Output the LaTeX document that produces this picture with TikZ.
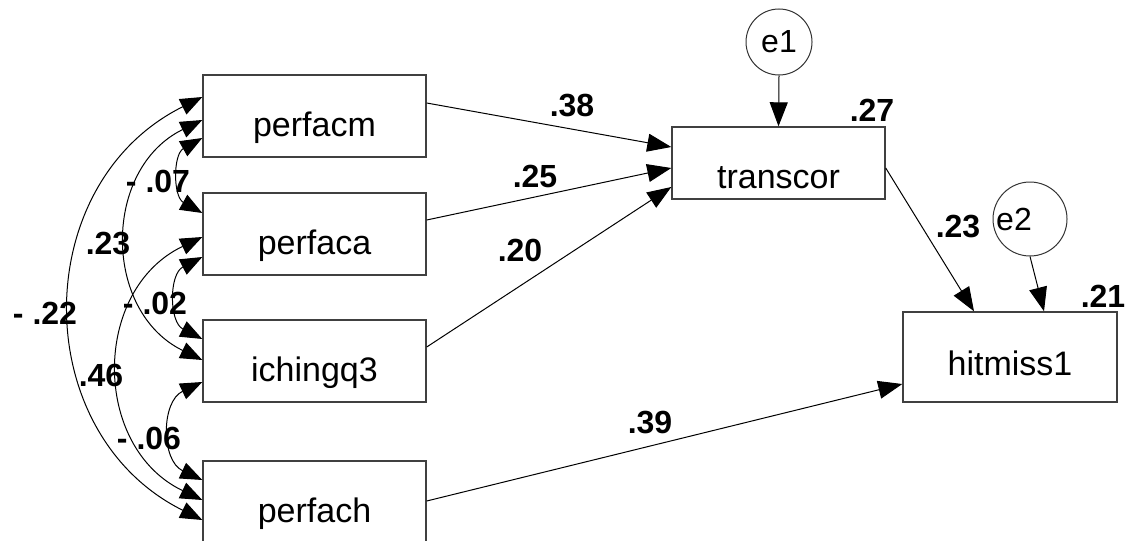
\documentclass[tikz,border=0pt]{standalone}
\usepackage{fontspec}
\setmainfont{Liberation Sans}
\usetikzlibrary{arrows.meta,calc}
\begin{document}
\begin{tikzpicture}[x=0.5pt,y=-0.5pt,
  box/.style={draw=black!75, line width=0.7pt, minimum width=111.5pt, minimum height=41pt,
    inner sep=0pt, font=\fontsize{17}{20}\selectfont, text height=20pt, text depth=0pt},
  errc/.style={draw=black!80, line width=0.5pt, circle, inner sep=0pt, font=\fontsize{16}{18}\selectfont},
  arr/.style={-{Triangle[length=12pt,width=9pt]}, line width=0.5pt},
  dbl/.style={{Triangle[length=11pt,width=8.5pt]}-{Triangle[length=11pt,width=8.5pt]}, line width=0.5pt},
  lbl/.style={font=\bfseries\fontsize{16}{18}\selectfont, inner sep=0pt}
]
\useasboundingbox (0,0) rectangle (1128,540);
% observed variables
\node[box] (perfacm) at (314.5,116) {perfacm};
\node[box] (perfaca) at (314.5,234) {perfaca};
\node[box] (ichingq3) at (314.5,361) {ichingq3};
\node[box] (perfach) at (314.5,502) {perfach};
\node[box, minimum width=106.5pt, minimum height=36pt, text height=25pt] (transcor) at (778.5,163) {transcor};
\node[box, minimum width=107pt, minimum height=45pt, text height=18pt] (hitmiss1) at (1010,357) {hitmiss1};
% error terms
\node[errc, minimum size=33pt] (e1) at (779,42) {e1};
\node[errc, minimum size=37pt] (e2) at (1030,219) {};
\node[font=\fontsize{16}{18}\selectfont, inner sep=0pt] (e2t) at (1014,219) {e2};
% regression paths
\draw[arr] ($(perfacm.east)+(0,-13)$) -- ($(transcor.west)+(0,-16)$);
\draw[arr] ($(perfaca.east)+(0,-14)$) -- ($(transcor.west)+(0,5)$);
\draw[arr] ($(ichingq3.east)+(0,-14)$) -- ($(transcor.west)+(0,24)$);
\draw[arr] ($(perfach.east)+(0,-1)$) -- ($(hitmiss1.west)+(0,27)$);
\draw[arr] ($(transcor.east)+(0,5)$) -- ($(hitmiss1.north)+(-36,0)$);
\draw[arr] (e1.south) -- (transcor.north);
\draw[arr] (e2.south) -- ($(hitmiss1.north)+(34,0)$);
% covariances
\draw[dbl] ($(perfacm.west)+(0,-19)$) .. controls +(-174.6,86.8) and +(-174.6,-86.8) .. ($(perfach.west)+(0,18)$);
\draw[dbl] ($(perfacm.west)+(0,4)$) .. controls +(-100,48.7) and +(-100,-48.7) .. ($(ichingq3.west)+(0,-1)$);
\draw[dbl] ($(perfaca.west)+(0,3)$) .. controls +(-110.6,52.8) and +(-110.6,-52.8) .. ($(perfach.west)+(0,-2)$);
\draw[dbl] ($(perfacm.west)+(0,22)$) .. controls +(-29.3,16.4) and +(-29.3,-16.4) .. ($(perfaca.west)+(0,-21)$);
\draw[dbl] ($(perfaca.west)+(0,23)$) .. controls +(-33.4,17.1) and +(-33.4,-17.1) .. ($(ichingq3.west)+(0,-22)$);
\draw[dbl] ($(ichingq3.west)+(0,21)$) .. controls +(-41.4,19.5) and +(-41.4,-19.5) .. ($(perfach.west)+(0,-22)$);
% labels
\node[lbl] (l38) at (572,106) {.38};
\node[lbl] (l25) at (535,176) {.25};
\node[lbl] (l20) at (520,250) {.20};
\node[lbl] (l39) at (650,423) {.39};
\node[lbl] (l27) at (872,110) {.27};
\node[lbl] (l23r) at (958,227) {.23};
\node[lbl] (l21) at (1103,296) {.21};
\node[lbl] (l07) at (158,181) {- .07};
\node[lbl] (l23) at (108,244) {.23};
\node[lbl] (l02) at (155,303) {- .02};
\node[lbl] (l22) at (45,313) {- .22};
\node[lbl] (l46) at (101,375) {.46};
\node[lbl] (l06) at (149,438) {- .06};
\end{tikzpicture}
\end{document}
